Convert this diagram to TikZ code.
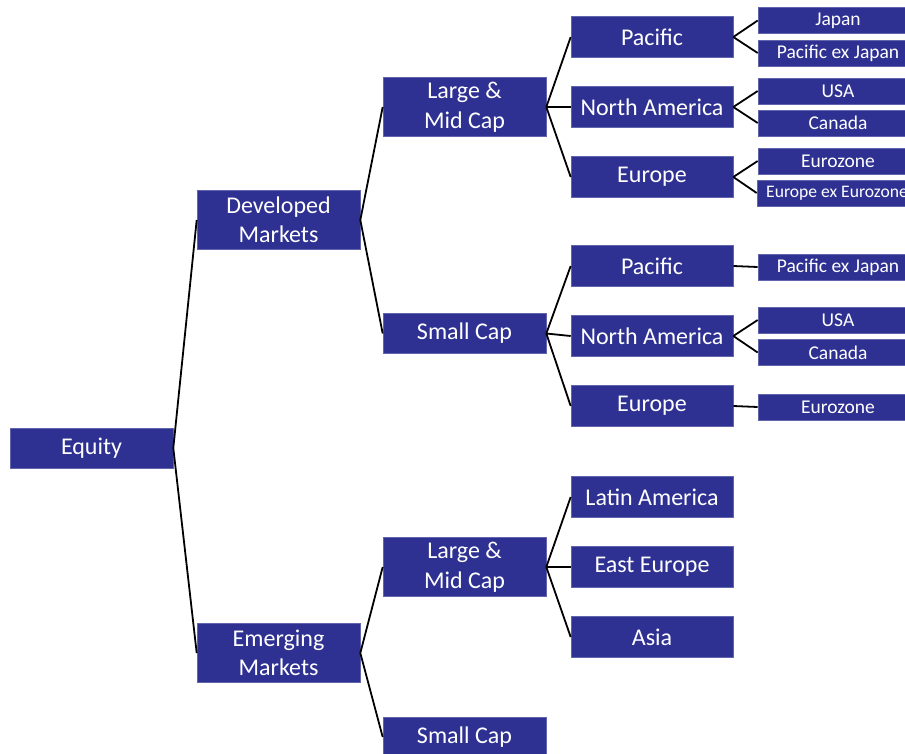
\documentclass[tikz,border=0pt]{standalone}
\usepackage{fontspec}
\setmainfont{Carlito}
\definecolor{boxblue}{HTML}{2E3192}
\begin{document}
\begin{tikzpicture}[x=1pt,y=-1pt,
  box/.style={rectangle, fill=boxblue, draw=boxblue!75!white, line width=0.6pt,
    text=white, inner sep=0pt, align=center, font=\fontsize{24}{29.5}\selectfont},
  big/.style={box, minimum width=163pt, minimum height=59pt},
  mid/.style={box, minimum width=163pt, minimum height=40pt},
  reg/.style={box, minimum width=162pt, minimum height=41pt},
  leaf/.style={box, minimum width=160pt, minimum height=26pt, font=\fontsize{19.5}{23}\selectfont},
  link/.style={draw=black, line width=1.8pt}]
\useasboundingbox (0,0) rectangle (905,753);
\clip (0,0) rectangle (905,753);

% root and market tiers
\node[mid] (eq) at (91.5,448) {Equity};
\node[big] (dm) at (278.5,220) {Developed\\Markets};
\node[big] (em) at (278.5,653) {Emerging\\Markets};

% size segments
\node[big] (dlm) at (464.5,107) {Large \&\\Mid Cap};
\node[mid] (dsc) at (464.5,333.5) {Small Cap};
\node[big] (elm) at (464.5,567) {Large \&\\Mid Cap};
\node[mid] (esc) at (464.5,737) {Small Cap};

% regions
\node[reg] (dlp) at (652,37) {Pacific};
\node[reg] (dln) at (652,107) {North America};
\node[reg] (dle) at (652,177) {Europe};
\node[reg] (dsp) at (652,266) {Pacific};
\node[reg] (dsn) at (652,336) {North America};
\node[reg] (dse) at (652,406) {Europe};
\node[reg] (ela) at (652,497) {Latin America};
\node[reg] (eee) at (652,567) {East Europe};
\node[reg] (eas) at (652,637) {Asia};

% countries
\node[leaf] (c1) at (838,20.5) {Japan};
\node[leaf] (c2) at (838,53) {Pacific ex Japan};
\node[leaf] (c3) at (838,91) {USA};
\node[leaf] (c4) at (838,123) {Canada};
\node[leaf] (c5) at (838,161) {Eurozone};
\node[leaf, font=\fontsize{17.6}{21}\selectfont] (c6) at (837,193) {Europe ex Eurozone};
\node[leaf] (c7) at (838,267) {Pacific ex Japan};
\node[leaf] (c8) at (838,320) {USA};
\node[leaf] (c9) at (838,352.5) {Canada};
\node[leaf] (c10) at (838,407) {Eurozone};

% connectors
\foreach \a/\b in {eq/dm, eq/em, dm/dlm, dm/dsc, em/elm, em/esc,
  dlm/dlp, dlm/dln, dlm/dle, dsc/dsp, dsc/dsn, dsc/dse,
  elm/ela, elm/eee, elm/eas,
  dlp/c1, dlp/c2, dln/c3, dln/c4, dle/c5, dle/c6,
  dsp/c7, dsn/c8, dsn/c9, dse/c10}
  \draw[link] (\a.east) -- (\b.west);
\end{tikzpicture}
\end{document}
